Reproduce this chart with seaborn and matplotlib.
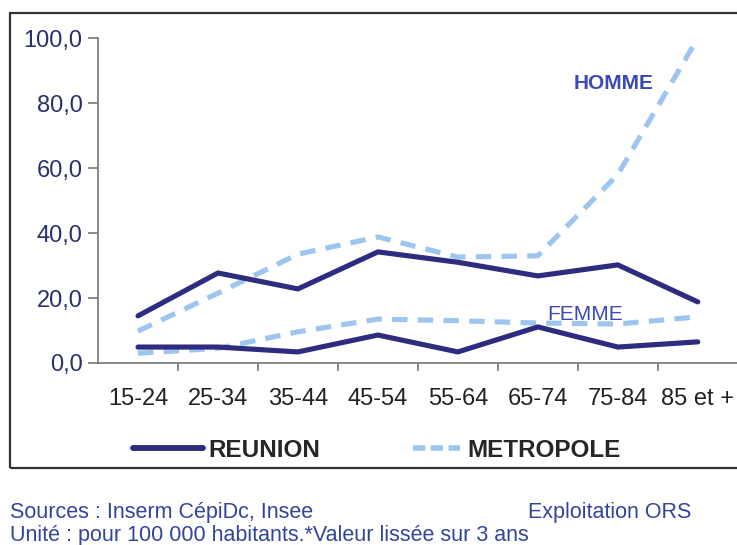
import pandas as pd
import seaborn as sns
import matplotlib.pyplot as plt
from matplotlib.patches import Rectangle
from matplotlib.lines import Line2D

# =========================================================
# DATA
# =========================================================

ages = ["15-24", "25-34", "35-44", "45-54", "55-64", "65-74", "75-84", "85 et +"]

reunion_homme = [14.5, 27.7, 22.8, 34.2, 31.0, 26.8, 30.2, 18.8]
reunion_femme = [4.9, 4.9, 3.4, 8.6, 3.4, 11.1, 4.9, 6.5]
metropole_homme = [9.8, 21.5, 33.5, 38.8, 32.6, 33.0, 58.0, 100.0]
metropole_femme = [3.0, 4.5, 9.6, 13.5, 13.0, 12.3, 12.0, 14.2]

yticks = [0, 20, 40, 60, 80, 100]

# =========================================================
# SETTINGS
# =========================================================

sns.set_theme(style="white")
plt.rcParams["font.family"] = ["Liberation Sans", "DejaVu Sans"]

navy = "#2e2c7e"
light = "#9cc5ef"
label_blue = "#3a48b8"
footer_blue = "#34449a"

series = {
    ("REUNION", "homme"): reunion_homme,
    ("REUNION", "femme"): reunion_femme,
    ("METROPOLE", "homme"): metropole_homme,
    ("METROPOLE", "femme"): metropole_femme,
}

rows = []
for (zone, sexe), vals in series.items():
    for age, v in zip(ages, vals):
        rows.append({"age": age, "taux": v, "zone": zone, "sexe": sexe})
df = pd.DataFrame(rows)

# =========================================================
# PLOT
# =========================================================

fig = plt.figure(figsize=(7.37, 5.45), dpi=100)
ax = fig.add_axes([0.133, 0.334, 0.868, 0.596])

# outer frame
fig.patches.append(Rectangle(
    (0.0136, 0.141), 1.2, 0.835,
    transform=fig.transFigure, fill=False,
    edgecolor="#333333", linewidth=1.6, zorder=0
))

sns.lineplot(
    data=df,
    x="age",
    y="taux",
    hue="zone",
    style="zone",
    units="sexe",
    estimator=None,
    sort=False,
    palette={"REUNION": navy, "METROPOLE": light},
    dashes={"REUNION": "", "METROPOLE": (3, 2)},
    hue_order=["METROPOLE", "REUNION"],
    linewidth=3.7,
    legend=False,
    ax=ax
)

ax.set_xlim(-0.5, len(ages) - 0.5)
ax.set_ylim(0, 100)

ax.set_xticks(range(len(ages)))
ax.set_xticklabels(ages)
ax.set_xticks([i + 0.5 for i in range(len(ages))], minor=True)
ax.tick_params(axis="x", which="major", length=0, pad=18,
               labelsize=17, labelcolor="#222222")
ax.tick_params(axis="x", which="minor", bottom=True, length=6,
               width=1.2, color="#777777")

ax.set_yticks(yticks)
ax.set_yticklabels([f"{t:.1f}".replace(".", ",") for t in yticks])
ax.tick_params(axis="y", left=True, length=7, width=1.2,
               color="#777777", labelsize=17, labelcolor="#2b2f6e", pad=4)

for side in ["top", "right"]:
    ax.spines[side].set_visible(False)
for side in ["left", "bottom"]:
    ax.spines[side].set_color("#777777")
    ax.spines[side].set_linewidth(1.2)

ax.set_xlabel("")
ax.set_ylabel("")

ax.text(5.95, 86, "HOMME", color=label_blue, fontsize=15,
        fontweight="bold", ha="center", va="center")
ax.text(5.59, 15, "FEMME", color=label_blue, fontsize=15,
        ha="center", va="center")

# =========================================================
# LEGEND
# =========================================================

legend_font = {"size": 17.5, "weight": "bold"}

leg1 = fig.legend(
    [Line2D([], [], color=navy, linewidth=4.2)],
    ["REUNION"],
    loc="center left",
    bbox_to_anchor=(133 / 737, 0.174),
    frameon=False,
    borderpad=0,
    borderaxespad=0,
    handlelength=2.9,
    handletextpad=0.2,
    prop=legend_font
)

fig.legend(
    [Line2D([], [], color=light, linewidth=4, dashes=(2.2, 1))],
    ["METROPOLE"],
    loc="center left",
    bbox_to_anchor=(413 / 737, 0.174),
    frameon=False,
    borderpad=0,
    borderaxespad=0,
    handlelength=1.95,
    handletextpad=0.3,
    prop=legend_font
)

# =========================================================
# FOOTER
# =========================================================

fig.text(0.0136, 0.06, "Sources : Inserm CépiDc, Insee",
         color=footer_blue, fontsize=15.5, va="center")
fig.text(0.716, 0.06, "Exploitation ORS",
         color=footer_blue, fontsize=15.5, va="center")
fig.text(0.0136, 0.018, "Unité : pour 100 000 habitants.*Valeur lissée sur 3 ans",
         color=footer_blue, fontsize=15.5, va="center")

plt.savefig("out.png", dpi=100)
plt.close()
